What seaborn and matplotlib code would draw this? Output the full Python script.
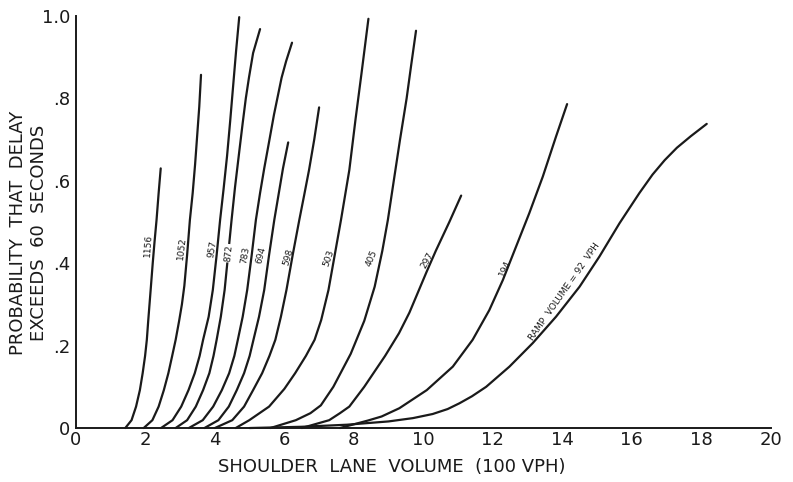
import numpy as np
import pandas as pd
import matplotlib
matplotlib.use("Agg")
import matplotlib.pyplot as plt
import seaborn as sns

# curves, (shoulder volume in 100 vph, probability)
ramp_1156_x = [1.42, 1.6, 1.73, 1.84, 1.92, 1.99, 2.04, 2.08, 2.15, 2.21, 2.26, 2.32, 2.38, 2.44]
ramp_1156_y = [0.0, 0.019, 0.052, 0.092, 0.133, 0.175, 0.214, 0.26, 0.335, 0.4, 0.45, 0.505,
               0.57, 0.63]

ramp_1052_x = [1.95, 2.2, 2.38, 2.53, 2.66, 2.77, 2.87, 2.97, 3.05, 3.12, 3.20, 3.28, 3.36,
               3.43, 3.49, 3.55, 3.60]
ramp_1052_y = [0.0, 0.019, 0.052, 0.092, 0.133, 0.175, 0.214, 0.26, 0.30, 0.345, 0.42, 0.505,
               0.57, 0.64, 0.71, 0.78, 0.857]

ramp_957_x = [2.45, 2.78, 3.03, 3.24, 3.42, 3.56, 3.66, 3.82, 3.94, 4.05, 4.15, 4.25, 4.35,
              4.44, 4.53, 4.61, 4.70]
ramp_957_y = [0.0, 0.019, 0.052, 0.092, 0.133, 0.175, 0.214, 0.27, 0.335, 0.42, 0.505, 0.58,
              0.66, 0.745, 0.835, 0.915, 0.997]

ramp_872_x = [2.87, 3.2, 3.45, 3.66, 3.84, 3.96, 4.05, 4.17, 4.28, 4.38, 4.48, 4.58, 4.70,
              4.80, 4.89, 4.98, 5.10, 5.30]
ramp_872_y = [0.0, 0.019, 0.052, 0.092, 0.133, 0.175, 0.214, 0.27, 0.335, 0.42, 0.505, 0.585,
              0.67, 0.74, 0.80, 0.85, 0.91, 0.968]

ramp_783_x = [3.25, 3.65, 3.95, 4.2, 4.41, 4.56, 4.66, 4.8, 4.93, 5.06, 5.18, 5.30, 5.42,
              5.55, 5.70, 5.92, 6.05, 6.22]
ramp_783_y = [0.0, 0.019, 0.052, 0.092, 0.133, 0.175, 0.214, 0.27, 0.335, 0.42, 0.505, 0.57,
              0.63, 0.69, 0.76, 0.85, 0.89, 0.935]

ramp_694_x = [3.7, 4.1, 4.4, 4.63, 4.84, 5.0, 5.11, 5.27, 5.42, 5.56, 5.71, 5.84, 5.96, 6.11]
ramp_694_y = [0.0, 0.019, 0.052, 0.092, 0.133, 0.175, 0.214, 0.27, 0.335, 0.42, 0.505, 0.57,
              0.63, 0.693]

ramp_598_x = [4.0, 4.5, 4.84, 5.1, 5.36, 5.57, 5.74, 5.9, 6.06, 6.24, 6.43, 6.57, 6.71, 6.86, 7.0]
ramp_598_y = [0.0, 0.019, 0.052, 0.092, 0.133, 0.175, 0.214, 0.27, 0.335, 0.42, 0.505, 0.565,
              0.626, 0.70, 0.778]

ramp_503_x = [4.6, 4.99, 5.56, 6.0, 6.31, 6.62, 6.87, 7.06, 7.27, 7.45, 7.63, 7.87, 8.05,
              8.22, 8.42]
ramp_503_y = [0.0, 0.019, 0.052, 0.095, 0.133, 0.175, 0.214, 0.262, 0.335, 0.42, 0.505, 0.626,
              0.75, 0.86, 0.993]

ramp_405_x = [5.6, 6.33, 6.75, 7.05, 7.41, 7.91, 8.3, 8.6, 8.82, 8.98, 9.15, 9.33, 9.52,
              9.65, 9.79]
ramp_405_y = [0.0, 0.019, 0.036, 0.055, 0.10, 0.18, 0.26, 0.343, 0.43, 0.505, 0.6, 0.7, 0.8,
              0.88, 0.964]

ramp_297_x = [6.5, 7.29, 7.6, 7.87, 8.3, 8.9, 9.3, 9.6, 9.85, 10.1, 10.36, 10.75, 11.09]
ramp_297_y = [0.0, 0.019, 0.036, 0.052, 0.10, 0.175, 0.23, 0.28, 0.33, 0.38, 0.43, 0.50, 0.564]

ramp_194_x = [7.6, 8.4, 8.8, 9.31, 10.1, 10.85, 11.42, 11.90, 12.29, 12.67, 13.05, 13.44,
              13.82, 14.14]
ramp_194_y = [0.0, 0.018, 0.028, 0.048, 0.092, 0.149, 0.214, 0.286, 0.359, 0.44, 0.521, 0.61,
              0.707, 0.786]

ramp_92_x = [5.0, 6.5, 7.8, 9.0, 9.7, 10.27, 10.7, 11.04, 11.4, 11.81, 12.48, 13.15, 13.82,
             14.5, 15.07, 15.65, 16.22, 16.6, 16.95, 17.3, 17.7, 18.16]
ramp_92_y = [0.0, 0.003, 0.008, 0.016, 0.024, 0.034, 0.046, 0.06, 0.077, 0.10, 0.149, 0.206,
             0.27, 0.343, 0.416, 0.497, 0.57, 0.615, 0.65, 0.68, 0.708, 0.738]

curves = {
    "1156": (ramp_1156_x, ramp_1156_y),
    "1052": (ramp_1052_x, ramp_1052_y),
    "957": (ramp_957_x, ramp_957_y),
    "872": (ramp_872_x, ramp_872_y),
    "783": (ramp_783_x, ramp_783_y),
    "694": (ramp_694_x, ramp_694_y),
    "598": (ramp_598_x, ramp_598_y),
    "503": (ramp_503_x, ramp_503_y),
    "405": (ramp_405_x, ramp_405_y),
    "297": (ramp_297_x, ramp_297_y),
    "194": (ramp_194_x, ramp_194_y),
    "92": (ramp_92_x, ramp_92_y),
}

# label text, position and angle along each curve
label_text = ["1156", "1052", "957", "872", "783", "694", "598", "503", "405", "297", "194",
              "RAMP  VOLUME = 92  VPH"]
label_x = [2.08, 3.04, 3.92, 4.40, 4.88, 5.32, 6.12, 7.27, 8.50, 10.12, 12.36, 14.06]
label_y = [0.444, 0.436, 0.434, 0.424, 0.42, 0.42, 0.416, 0.412, 0.412, 0.408, 0.388, 0.331]
label_rot = [86, 83, 80, 84, 80, 76, 74, 71, 67, 61, 66, 55]

rows = []
for name, (xs, ys) in curves.items():
    for xv, yv in zip(xs, ys):
        rows.append({"ramp": name, "volume": xv, "prob": yv})
df = pd.DataFrame(rows)

sns.set_style("white")
plt.rcParams["font.family"] = ["DejaVu Sans"]

fig = plt.figure(figsize=(7.93, 4.82), dpi=100)
ax = fig.add_axes([0.0958, 0.112, 0.876, 0.855])

sns.lineplot(data=df, x="volume", y="prob", units="ramp", estimator=None,
             color="#1a1a1a", linewidth=1.6, ax=ax, legend=False)
for line in ax.get_lines():
    line.set_clip_on(False)
    line.set_solid_joinstyle("round")

for t, lx, ly, r in zip(label_text, label_x, label_y, label_rot):
    kw = {}
    if t == "872":
        kw["bbox"] = dict(facecolor="white", edgecolor="none", pad=0.5)
    ax.text(lx, ly, t, rotation=r, ha="center", va="center", fontsize=6.5,
            color="#1a1a1a", rotation_mode="anchor", **kw)

ax.set_xlim(0, 20)
ax.set_ylim(0, 1.0)
ax.set_xticks(np.arange(0, 21, 1), minor=True)
ax.set_xticks(np.arange(0, 21, 2))
ax.set_yticks(np.arange(0, 1.01, 0.1), minor=True)
ax.set_yticks([0, 0.2, 0.4, 0.6, 0.8, 1.0])
ax.set_yticklabels(["0", ".2", ".4", ".6", ".8", "1.0"])
ax.tick_params(which="both", direction="in", length=4, width=1, color="#1a1a1a",
               labelsize=13, labelcolor="#1a1a1a")
ax.tick_params(axis="x", which="both", pad=2)
ax.tick_params(axis="y", which="both", pad=4)

sns.despine(ax=ax)
for side in ["left", "bottom"]:
    ax.spines[side].set_linewidth(1.4)
    ax.spines[side].set_color("#1a1a1a")

ax.set_xlabel("")
ax.set_ylabel("")
fig.text(0.494, 0.031, "SHOULDER  LANE  VOLUME  (100 VPH)", ha="center", va="center",
         fontsize=13, color="#1a1a1a")
fig.text(0.036, 0.517, "PROBABILITY  THAT  DELAY\nEXCEEDS  60  SECONDS", ha="center",
         va="center", rotation=90, fontsize=13, color="#1a1a1a", linespacing=1.25)

fig.savefig("out.png", dpi=100)
